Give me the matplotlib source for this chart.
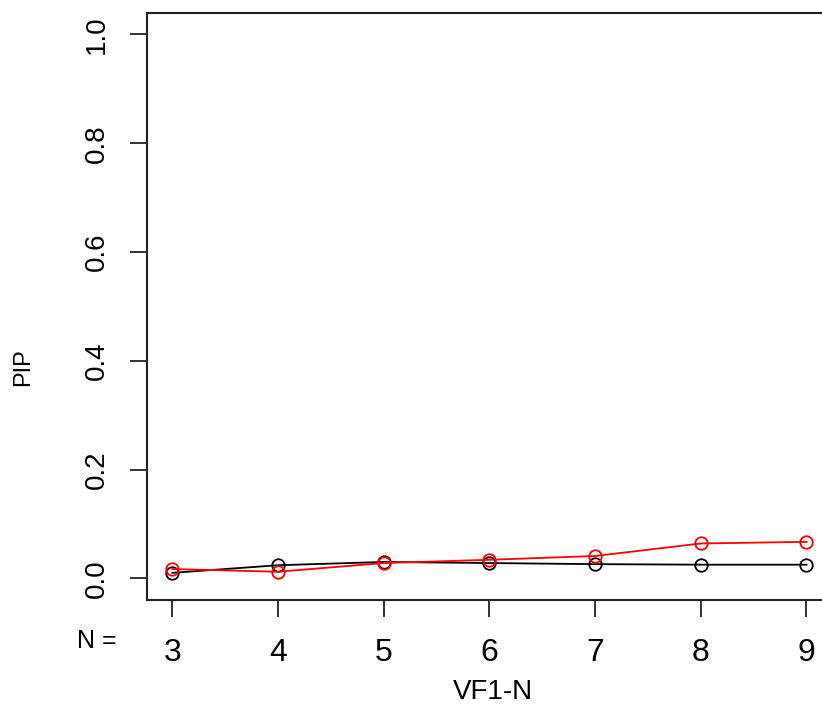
import matplotlib
matplotlib.use("Agg")
import matplotlib.pyplot as plt

plt.rcParams["font.family"] = ["Liberation Sans", "DejaVu Sans"]

n_values = [3, 4, 5, 6, 7, 8, 9]
pip_black = [0.010, 0.024, 0.030, 0.028, 0.026, 0.025, 0.025]
pip_red = [0.017, 0.012, 0.028, 0.034, 0.041, 0.064, 0.067]
y_ticks = [0.0, 0.2, 0.4, 0.6, 0.8, 1.0]


def main():
    fig = plt.figure(figsize=(8.22, 7.08), dpi=100)
    ax = fig.add_axes([0.1788, 0.1525, 1.012 - 0.1788, 0.982 - 0.1525])

    ax.plot(n_values, pip_black, color="black", lw=1.3, marker="o",
            mfc="none", mec="black", ms=9, mew=1.3)
    ax.plot(n_values, pip_red, color="red", lw=1.3, marker="o",
            mfc="none", mec="red", ms=9, mew=1.3)

    ax.set_xlim(2.76, 9.24)
    ax.set_ylim(-0.04, 1.04)
    ax.set_xticks(n_values)
    ax.set_xticklabels([str(v) for v in n_values], fontsize=23)
    ax.set_yticks(y_ticks)
    ax.set_yticklabels([f"{v:.1f}" for v in y_ticks], fontsize=20,
                       rotation=90, va="center")

    ax.tick_params(axis="both", length=12, width=1.3, color="#222222")
    ax.tick_params(axis="x", pad=15)
    ax.tick_params(axis="y", pad=15)
    for side in ax.spines.values():
        side.set_linewidth(1.5)
        side.set_color("#222222")

    ax.set_ylabel("PIP", fontsize=17)
    ax.yaxis.set_label_coords(34 / 822, (708 - 367) / 708, transform=fig.transFigure)
    fig.text(493 / 822, 1 - 692 / 708, "VF1-N", fontsize=20, ha="center", va="center")
    fig.text(97 / 822, 1 - 641 / 708, "N =", fontsize=18, ha="center", va="center")

    fig.savefig("out.png", dpi=100)


if __name__ == "__main__":
    main()
